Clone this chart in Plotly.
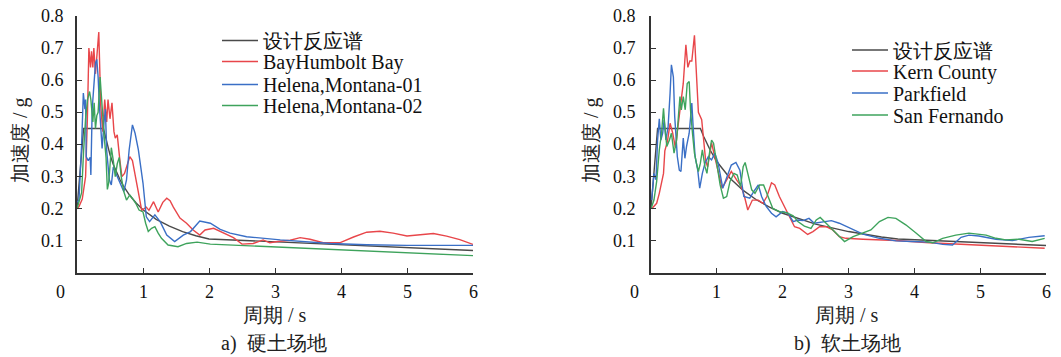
import plotly.graph_objects as go

# ---------------- data: a) hard soil ----------------
T_design_a = [0, 0.1, 0.4, 0.45, 0.5, 0.55, 0.6, 0.65, 0.7, 0.75, 0.8, 0.9, 1.0, 1.2, 1.4, 1.6, 1.8, 2.0, 3.0, 4.0, 5.0, 6.0]
A_design_a = [0.20, 0.45, 0.45, 0.405, 0.368, 0.338, 0.312, 0.291, 0.272, 0.256, 0.241, 0.217, 0.197, 0.167, 0.146, 0.129, 0.116, 0.106, 0.097, 0.088, 0.079, 0.070]

T_humboldt = [0.0, 0.03, 0.08, 0.13, 0.157, 0.18, 0.205, 0.22, 0.24, 0.255, 0.28, 0.30, 0.33, 0.36, 0.39, 0.42, 0.45, 0.47, 0.50, 0.53, 0.56, 0.58, 0.61, 0.65, 0.68, 0.72, 0.76, 0.80, 0.84, 0.90, 0.94, 0.98, 1.02, 1.05, 1.09, 1.16, 1.23, 1.30, 1.36, 1.41, 1.46, 1.56, 1.66, 1.76, 1.86, 1.94, 2.07, 2.17, 2.37, 2.50, 2.67, 2.82, 2.92, 3.07, 3.23, 3.38, 3.53, 3.73, 3.98, 4.19, 4.39, 4.59, 4.79, 5.0, 5.2, 5.4, 5.6, 5.8, 6.0]
A_humboldt = [0.20, 0.207, 0.23, 0.30, 0.477, 0.70, 0.64, 0.69, 0.64, 0.70, 0.62, 0.68, 0.75, 0.52, 0.44, 0.54, 0.47, 0.54, 0.48, 0.53, 0.44, 0.42, 0.43, 0.35, 0.30, 0.31, 0.34, 0.362, 0.35, 0.29, 0.24, 0.195, 0.20, 0.205, 0.195, 0.222, 0.19, 0.22, 0.233, 0.225, 0.205, 0.171, 0.155, 0.134, 0.118, 0.134, 0.139, 0.13, 0.11, 0.09, 0.092, 0.103, 0.094, 0.099, 0.102, 0.110, 0.105, 0.094, 0.094, 0.112, 0.127, 0.130, 0.124, 0.115, 0.12, 0.123, 0.115, 0.104, 0.089]

T_helena1 = [0.0, 0.03, 0.07, 0.096, 0.12, 0.13, 0.14, 0.17, 0.20, 0.21, 0.23, 0.26, 0.28, 0.30, 0.32, 0.34, 0.36, 0.38, 0.41, 0.43, 0.45, 0.49, 0.52, 0.55, 0.59, 0.63, 0.67, 0.71, 0.75, 0.79, 0.84, 0.88, 0.93, 1.0, 1.05, 1.10, 1.18, 1.26, 1.36, 1.48, 1.61, 1.72, 1.86, 2.02, 2.17, 2.32, 2.57, 3.08, 3.84, 4.39, 5.0, 6.0]
A_helena1 = [0.22, 0.227, 0.40, 0.56, 0.51, 0.54, 0.362, 0.35, 0.36, 0.305, 0.51, 0.61, 0.653, 0.665, 0.61, 0.52, 0.435, 0.388, 0.47, 0.51, 0.38, 0.29, 0.274, 0.33, 0.31, 0.29, 0.269, 0.253, 0.29, 0.383, 0.461, 0.435, 0.383, 0.28, 0.175, 0.16, 0.181, 0.16, 0.118, 0.098, 0.118, 0.129, 0.162, 0.155, 0.136, 0.124, 0.113, 0.103, 0.092, 0.088, 0.086, 0.086]

T_helena2 = [0.0, 0.04, 0.07, 0.10, 0.13, 0.16, 0.19, 0.21, 0.24, 0.26, 0.28, 0.30, 0.32, 0.35, 0.38, 0.41, 0.44, 0.46, 0.48, 0.52, 0.55, 0.58, 0.61, 0.64, 0.67, 0.71, 0.75, 0.80, 0.84, 0.89, 0.94, 1.0, 1.04, 1.08, 1.13, 1.18, 1.23, 1.28, 1.38, 1.53, 1.66, 1.82, 2.02, 2.87, 3.89, 4.89, 6.0]
A_helena2 = [0.20, 0.225, 0.25, 0.38, 0.48, 0.54, 0.565, 0.54, 0.47, 0.53, 0.45, 0.49, 0.50, 0.61, 0.50, 0.43, 0.36, 0.26, 0.28, 0.39, 0.35, 0.30, 0.34, 0.36, 0.30, 0.253, 0.227, 0.243, 0.232, 0.217, 0.196, 0.19, 0.155, 0.129, 0.139, 0.144, 0.124, 0.108, 0.087, 0.082, 0.092, 0.096, 0.090, 0.082, 0.072, 0.063, 0.054]

# ---------------- data: b) soft soil ----------------
T_design_b = [0, 0.1, 0.75, 0.8, 0.9, 1.0, 1.2, 1.4, 1.6, 1.8, 2.0, 2.5, 3.0, 3.5, 3.75, 4.0, 5.0, 6.0]
A_design_b = [0.20, 0.45, 0.45, 0.425, 0.382, 0.347, 0.295, 0.257, 0.228, 0.205, 0.186, 0.152, 0.129, 0.112, 0.106, 0.1035, 0.0945, 0.0855]

T_kern = [0.01, 0.086, 0.126, 0.16, 0.19, 0.21, 0.25, 0.29, 0.33, 0.37, 0.41, 0.45, 0.49, 0.53, 0.56, 0.59, 0.62, 0.66, 0.69, 0.72, 0.77, 0.83, 0.86, 0.92, 0.97, 1.03, 1.08, 1.15, 1.22, 1.30, 1.37, 1.42, 1.47, 1.54, 1.63, 1.70, 1.76, 1.83, 1.88, 1.95, 2.03, 2.11, 2.18, 2.26, 2.31, 2.38, 2.46, 2.56, 2.66, 2.76, 2.86, 2.96, 3.22, 3.72, 4.23, 4.73, 5.24, 5.98]
A_kern = [0.20, 0.217, 0.248, 0.28, 0.31, 0.38, 0.41, 0.466, 0.435, 0.39, 0.456, 0.51, 0.59, 0.71, 0.64, 0.66, 0.66, 0.74, 0.61, 0.50, 0.477, 0.35, 0.33, 0.405, 0.36, 0.31, 0.264, 0.29, 0.316, 0.29, 0.27, 0.238, 0.196, 0.227, 0.227, 0.217, 0.238, 0.281, 0.274, 0.238, 0.207, 0.175, 0.144, 0.139, 0.132, 0.12, 0.129, 0.144, 0.144, 0.134, 0.113, 0.108, 0.105, 0.101, 0.094, 0.089, 0.084, 0.077]

T_parkfield = [0.01, 0.045, 0.076, 0.10, 0.126, 0.15, 0.177, 0.20, 0.227, 0.26, 0.29, 0.31, 0.34, 0.36, 0.40, 0.43, 0.455, 0.49, 0.515, 0.54, 0.58, 0.62, 0.64, 0.67, 0.71, 0.74, 0.78, 0.82, 0.87, 0.92, 0.97, 1.02, 1.09, 1.15, 1.22, 1.29, 1.35, 1.41, 1.50, 1.56, 1.63, 1.68, 1.75, 1.83, 1.90, 2.0, 2.08, 2.16, 2.23, 2.31, 2.40, 2.48, 2.61, 2.74, 2.86, 3.02, 3.22, 3.47, 3.72, 3.97, 4.23, 4.43, 4.58, 4.71, 4.83, 4.98, 5.24, 5.49, 5.74, 5.98]
A_parkfield = [0.227, 0.31, 0.29, 0.414, 0.48, 0.414, 0.435, 0.477, 0.414, 0.456, 0.56, 0.648, 0.61, 0.487, 0.362, 0.32, 0.316, 0.42, 0.357, 0.394, 0.435, 0.529, 0.456, 0.362, 0.32, 0.264, 0.31, 0.342, 0.362, 0.352, 0.373, 0.342, 0.264, 0.30, 0.336, 0.344, 0.32, 0.238, 0.233, 0.253, 0.274, 0.238, 0.207, 0.186, 0.175, 0.191, 0.186, 0.16, 0.165, 0.163, 0.17, 0.155, 0.16, 0.163, 0.155, 0.139, 0.121, 0.108, 0.10, 0.098, 0.096, 0.089, 0.087, 0.111, 0.118, 0.115, 0.105, 0.101, 0.111, 0.116]

T_fernando = [0.0, 0.045, 0.086, 0.126, 0.16, 0.19, 0.21, 0.24, 0.28, 0.31, 0.35, 0.39, 0.42, 0.44, 0.46, 0.49, 0.52, 0.55, 0.58, 0.60, 0.63, 0.66, 0.69, 0.72, 0.75, 0.78, 0.82, 0.85, 0.88, 0.92, 0.95, 0.99, 1.05, 1.10, 1.15, 1.20, 1.26, 1.31, 1.36, 1.40, 1.43, 1.47, 1.53, 1.58, 1.65, 1.71, 1.78, 1.85, 1.95, 2.06, 2.16, 2.23, 2.33, 2.43, 2.51, 2.57, 2.66, 2.76, 2.86, 2.94, 3.07, 3.22, 3.34, 3.47, 3.6, 3.72, 3.87, 4.03, 4.18, 4.28, 4.43, 4.63, 4.83, 5.09, 5.24, 5.39, 5.59, 5.79, 5.98]
A_fernando = [0.20, 0.227, 0.285, 0.383, 0.435, 0.513, 0.456, 0.394, 0.414, 0.435, 0.373, 0.414, 0.497, 0.549, 0.508, 0.549, 0.508, 0.59, 0.596, 0.508, 0.435, 0.373, 0.342, 0.316, 0.342, 0.383, 0.331, 0.31, 0.362, 0.414, 0.404, 0.352, 0.274, 0.233, 0.238, 0.285, 0.31, 0.305, 0.269, 0.331, 0.344, 0.31, 0.259, 0.248, 0.274, 0.274, 0.238, 0.201, 0.191, 0.188, 0.178, 0.16, 0.146, 0.139, 0.165, 0.173, 0.155, 0.134, 0.113, 0.098, 0.113, 0.124, 0.134, 0.16, 0.173, 0.17, 0.15, 0.124, 0.098, 0.094, 0.108, 0.118, 0.124, 0.118, 0.108, 0.103, 0.105, 0.098, 0.108]

names_a = ["设计反应谱", "BayHumbolt Bay", "Helena,Montana-01", "Helena,Montana-02"]
names_b = ["设计反应谱", "Kern County", "Parkfield", "San Fernando"]
y_ticks = [0.1, 0.2, 0.3, 0.4, 0.5, 0.6, 0.7, 0.8]
y_ticktext = ["0.1", "0.2", "0.3", "0.4", "0.5", "0.6", "0.7", "0.8"]
x_ticks = [1, 2, 3, 4, 5, 6]
x_ticktext = ["1", "2", "3", "4", "5", "6"]
captions = ["a)\u00a0\u00a0硬土场地", "b)\u00a0\u00a0软土场地"]

# ---------------- styles ----------------
W, H = 1061, 357
FONT = "Liberation Serif, Times New Roman, serif"
colors = ["#4a4a4a", "#e8464a", "#3a6fc6", "#3ea35c"]
AX = "#333333"

fig = go.Figure()

series_a = [(T_design_a, A_design_a), (T_humboldt, A_humboldt), (T_helena1, A_helena1), (T_helena2, A_helena2)]
series_b = [(T_design_b, A_design_b), (T_kern, A_kern), (T_parkfield, A_parkfield), (T_fernando, A_fernando)]

# legend row positions (pixel centres)
leg_rows_a = [40.5, 61.5, 84.5, 105.5]
leg_rows_b = [50.0, 71.0, 93.0, 115.0]
leg_x_a = 217.0
leg_x_b = 847.0

legends = {}
k = 1
for (xs, ys), nm, col, ry in zip(series_a, names_a, colors, leg_rows_a):
    lname = "legend" if k == 1 else f"legend{k}"
    fig.add_trace(go.Scatter(x=xs, y=ys, mode="lines", name=nm, line=dict(color=col, width=1.4),
                             xaxis="x", yaxis="y", legend=lname))
    legends[lname] = dict(x=leg_x_a / W, y=1 - ry / H, xanchor="left", yanchor="middle",
                          bgcolor="rgba(0,0,0,0)", borderwidth=0, itemwidth=36,
                          font=dict(family=FONT, size=20, color="#111"), itemclick=False)
    k += 1
for (xs, ys), nm, col, ry in zip(series_b, names_b, colors, leg_rows_b):
    lname = f"legend{k}"
    fig.add_trace(go.Scatter(x=xs, y=ys, mode="lines", name=nm, line=dict(color=col, width=1.4),
                             xaxis="x2", yaxis="y2", legend=lname))
    legends[lname] = dict(x=leg_x_b / W, y=1 - ry / H, xanchor="left", yanchor="middle",
                          bgcolor="rgba(0,0,0,0)", borderwidth=0, itemwidth=36,
                          font=dict(family=FONT, size=20, color="#111"), itemclick=False)
    k += 1

ydom = [1 - 273 / H, 1 - 16 / H]
xdom_a = [77 / W, 473 / W]
xdom_b = [651 / W, 1046 / W]

def xaxis(dom, anchor):
    return dict(domain=dom, anchor=anchor, range=[0, 6], tickvals=x_ticks, ticks="inside", ticklen=5,
                tickwidth=1.2, tickcolor=AX, showline=True, linecolor=AX, linewidth=1.6,
                showgrid=False, zeroline=False, showticklabels=False)

def yaxis(anchor):
    return dict(domain=ydom, anchor=anchor, range=[0, 0.8], tickvals=y_ticks,
                ticks="inside", ticklen=5, tickwidth=1.2, tickcolor=AX, showline=True, linecolor=AX,
                linewidth=1.6, showgrid=False, zeroline=False, showticklabels=False)

layout = dict(width=W, height=H, margin=dict(l=0, r=0, t=0, b=0), paper_bgcolor="white", plot_bgcolor="white",
              showlegend=True, font=dict(family=FONT),
              xaxis=xaxis(xdom_a, "y"), yaxis=yaxis("x"),
              xaxis2=xaxis(xdom_b, "y2"), yaxis2=yaxis("x2"))
layout.update(legends)
fig.update_layout(**layout)

tick_font = dict(family=FONT, size=18, color="#111")
# tick labels placed through the axes' own scales
for yref, xpix in (("y", 66), ("y2", 638)):
    for v, t in zip(y_ticks, y_ticktext):
        fig.add_annotation(xref="paper", yref=yref, x=xpix / W, y=v, text=t, showarrow=False,
                           xanchor="right", yanchor="middle", font=tick_font)
for xref in ("x", "x2"):
    for v, t in zip(x_ticks, x_ticktext):
        fig.add_annotation(xref=xref, yref="paper", x=v, y=1 - 292 / H, text=t, showarrow=False,
                           xanchor="center", yanchor="middle", font=tick_font)

ann_font = dict(family=FONT, size=20, color="#222")
anns = [
    dict(text="0", x=60 / W, y=1 - 292 / H, font=tick_font),
    dict(text="0", x=634 / W, y=1 - 292 / H, font=tick_font),
    dict(text="加速度 / g", x=21 / W, y=1 - 140 / H, textangle=-90, font=ann_font),
    dict(text="加速度 / g", x=592 / W, y=1 - 140 / H, textangle=-90, font=ann_font),
    dict(text="周期 / s", x=275 / W, y=1 - 315 / H, font=ann_font),
    dict(text="周期 / s", x=847 / W, y=1 - 315 / H, font=ann_font),
    dict(text=captions[0], x=274 / W, y=1 - 343 / H, font=ann_font),
    dict(text=captions[1], x=847 / W, y=1 - 343 / H, font=ann_font),
]
for a in anns:
    fig.add_annotation(xref="paper", yref="paper", showarrow=False, xanchor="center", yanchor="middle", **a)

fig.write_html("out.html")
